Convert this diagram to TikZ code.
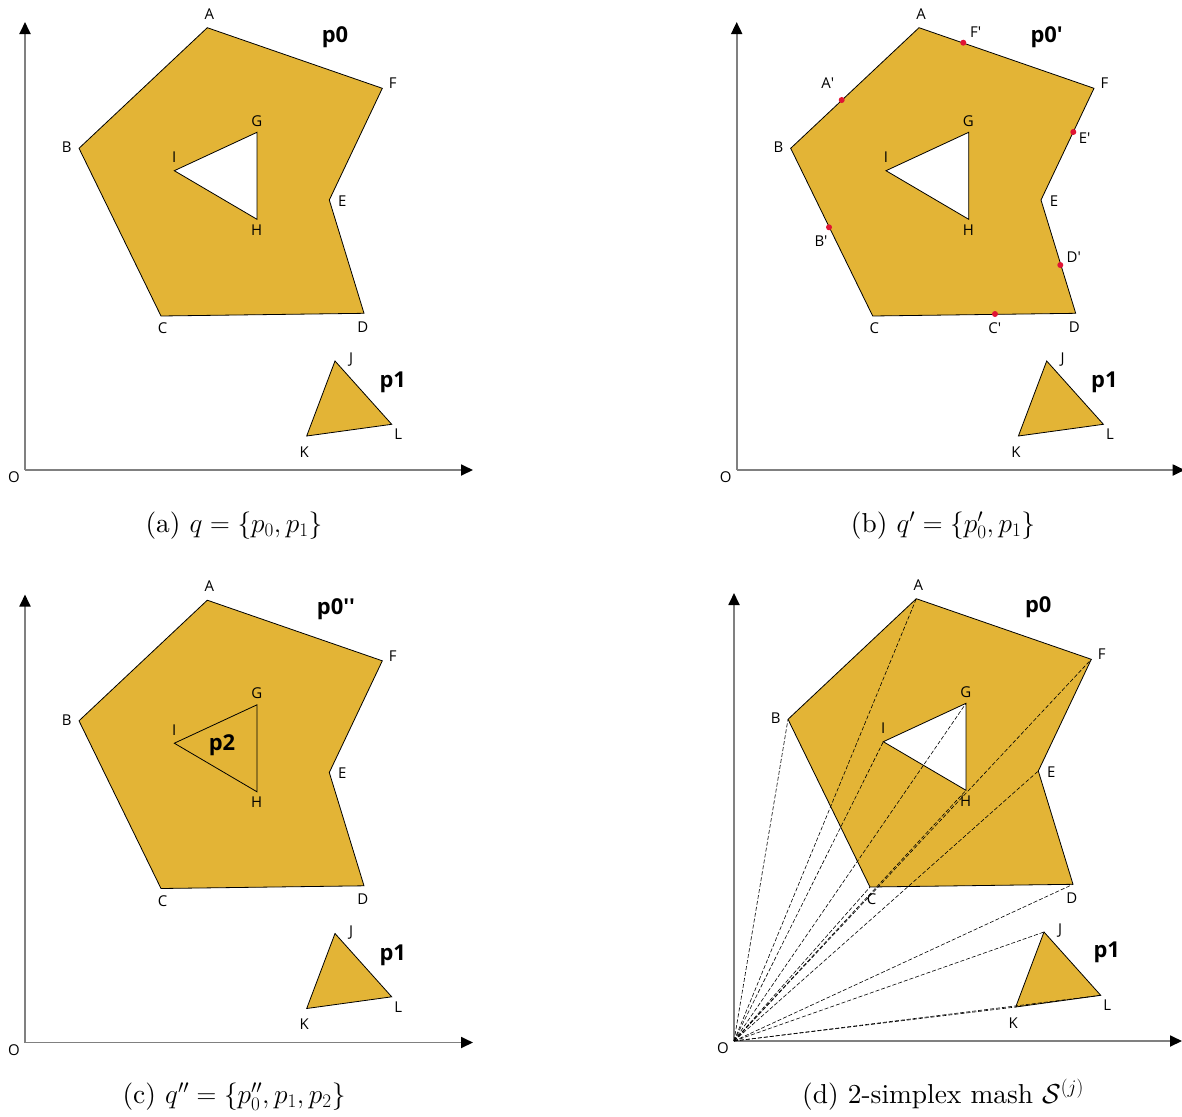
\documentclass[tikz,border=0pt]{standalone}
\usepackage{fix-cm}
\usepackage{fontspec}
\usepackage{amsmath}
\usetikzlibrary{arrows.meta}
\newfontfamily\labfont{Open Sans}
\newfontfamily\boldlab{Open Sans Bold}
\newfontfamily\captfont{lmroman10-regular}[Extension=.otf]
\definecolor{gold}{RGB}{227,180,54}
\definecolor{dotred}{RGB}{224,20,52}
\definecolor{axgray}{RGB}{128,128,128}
\tikzset{
  polyfill/.style={fill=gold},
  polyline/.style={draw=black, line width=0.8bp, line join=miter},
  lab/.style={font=\labfont\fontsize{15}{17}\selectfont, inner sep=0pt},
  biglab/.style={font=\boldlab\fontsize{22}{24}\selectfont, inner sep=0pt},
  axisline/.style={draw=axgray, line width=1.8bp, -{Triangle[length=12bp,width=11bp,color=black]}},
  dashline/.style={draw=black, line width=0.6bp, dash pattern=on 4bp off 2bp},
  reddot/.style={circle, fill=dotred, inner sep=0pt, minimum size=6bp},
  capt/.style={font=\captfont\fontsize{27.5}{31}\selectfont, inner sep=0pt, anchor=base}
}
\newcommand\defpts[1]{%
  \coordinate (#1O) at (25,470);
  \coordinate (#1Y) at (25,22);
  \coordinate (#1X) at (473,470);
  \coordinate (#1A) at (207.3,27.7);
  \coordinate (#1F) at (382.3,88.3);
  \coordinate (#1E) at (329.3,200);
  \coordinate (#1D) at (364,313.3);
  \coordinate (#1C) at (161,316);
  \coordinate (#1B) at (79,148.3);
  \coordinate (#1G) at (257,132.3);
  \coordinate (#1I) at (174.3,170.7);
  \coordinate (#1H) at (257,219.3);
  \coordinate (#1J) at (335,361);
  \coordinate (#1L) at (391.7,424.3);
  \coordinate (#1K) at (306.7,436);
}
\newcommand\deflabs[1]{%
  \node[lab] (#1lA) at (209.3,14) {A};
  \node[lab] (#1lF) at (392.7,83.3) {F};
  \node[lab] (#1lE) at (342.3,200.7) {E};
  \node[lab] (#1lD) at (362.7,326.7) {D};
  \node[lab] (#1lC) at (162.7,328.3) {C};
  \node[lab] (#1lB) at (66.7,147.3) {B};
  \node[lab] (#1lG) at (256.7,120.7) {G};
  \node[lab] (#1lI) at (174.3,157.3) {I};
  \node[lab] (#1lH) at (256.7,230) {H};
  \node[lab] (#1lJ) at (351,360) {J};
  \node[lab] (#1lL) at (398.3,434.3) {L};
  \node[lab] (#1lK) at (304.3,451.7) {K};
  \node[lab] (#1lO) at (14,477.3) {O};
}
\newcommand\axes[1]{%
  \draw[axisline] (#1O) -- (#1Y);
  \draw[axisline] (#1O) -- (#1X);
}
\newcommand\outerpath[1]{(#1A) -- (#1F) -- (#1E) -- (#1D) -- (#1C) -- (#1B) -- cycle}
\newcommand\holepath[1]{(#1G) -- (#1I) -- (#1H) -- cycle}
\newcommand\tripath[1]{(#1J) -- (#1L) -- (#1K) -- cycle}
\begin{document}
\begin{tikzpicture}[x=1bp, y=-1bp]
\useasboundingbox (0,0) rectangle (1182,1117);
% ---------- (a)
\begin{scope}
  \defpts{a}
  \axes{a}
  \fill[polyfill, even odd rule] \outerpath{a} \holepath{a};
  \draw[polyline] \outerpath{a};
  \draw[polyline] \holepath{a};
  \fill[polyfill] \tripath{a};
  \draw[polyline] \tripath{a};
  \deflabs{a}
  \node[biglab] (ap0) at (335,36.7) {p0};
  \node[biglab] (ap1) at (392.7,382.7) {p1};
  \node[capt] (acap) at (234,532) {(a) $q=\{p_0,p_1\}$};
\end{scope}
% ---------- (b)
\begin{scope}[shift={(711.7,0)}]
  \defpts{b}
  \axes{b}
  \fill[polyfill, even odd rule] \outerpath{b} \holepath{b};
  \draw[polyline] \outerpath{b};
  \draw[polyline] \holepath{b};
  \fill[polyfill] \tripath{b};
  \draw[polyline] \tripath{b};
  \deflabs{b}
  \node[biglab] (bp0) at (335,36.7) {p0\textquotesingle};
  \node[biglab] (bp1) at (392.7,382.7) {p1};
  \node[reddot] (bFp) at (251.6,42.7) {};
  \node[reddot] (bAp) at (130,100) {};
  \node[reddot] (bEp) at (361.6,132) {};
  \node[reddot] (bBp) at (117.3,227.3) {};
  \node[reddot] (bDp) at (348.6,265) {};
  \node[reddot] (bCp) at (283.3,314) {};
  \node[lab] (blFp) at (264,32.3) {F\textquotesingle};
  \node[lab] (blAp) at (116,83.3) {A\textquotesingle};
  \node[lab] (blEp) at (373,137.7) {E\textquotesingle};
  \node[lab] (blBp) at (109.3,240.7) {B\textquotesingle};
  \node[lab] (blDp) at (362,257.3) {D\textquotesingle};
  \node[lab] (blCp) at (283,327.7) {C\textquotesingle};
  \node[capt] (bcap) at (231.3,532) {(b) $q'=\{p'_0,p_1\}$};
\end{scope}
% ---------- (c)
\begin{scope}[shift={(0,572.5)}]
  \defpts{c}
  \axes{c}
  \fill[polyfill] \outerpath{c};
  \draw[polyline] \outerpath{c};
  \draw[polyline] \holepath{c};
  \fill[polyfill] \tripath{c};
  \draw[polyline] \tripath{c};
  \deflabs{c}
  \node[biglab] (cp0) at (336,36.7) {p0\textquotesingle\textquotesingle};
  \node[biglab] (cp1) at (392.7,382.7) {p1};
  \node[biglab] (cp2) at (222,172.5) {p2};
  \node[capt] (ccap) at (234,531) {(c) $q''=\{p''_0,p_1,p_2\}$};
\end{scope}
% ---------- (d)
\begin{scope}[shift={(709,571)}]
  \defpts{d}
  \axes{d}
  \fill[polyfill, even odd rule] \outerpath{d} \holepath{d};
  \draw[polyline] \outerpath{d};
  \draw[polyline] \holepath{d};
  \fill[polyfill] \tripath{d};
  \draw[polyline] \tripath{d};
  \foreach \v in {A,B,C,D,E,F,G,H,I,J,K,L}{
    \draw[dashline] (dO) -- (d\v);
  }
  \deflabs{d}
  \node[biglab] (dp0) at (329.3,36.3) {p0};
  \node[biglab] (dp1) at (397.7,381.7) {p1};
  \node[capt] (dcap) at (234,532) {(d) 2-simplex mash $\mathcal{S}^{(j)}$};
\end{scope}
\end{tikzpicture}
\end{document}
